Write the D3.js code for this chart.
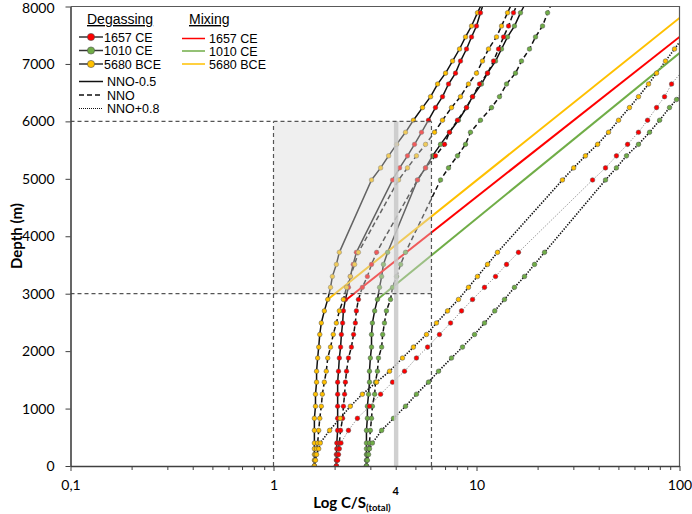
<!DOCTYPE html>
<html>
<head>
<meta charset="utf-8">
<script src="https://cdn.jsdelivr.net/npm/d3@7"></script>
<style>
  body { margin: 0; background: #fff; }
  svg { display: block; }
</style>
</head>
<body>
<div id="chart"></div>
<script>
// values: [C/S total, depth in m]
// a third entry of 0 = line only, no marker
// degassing, NNO-0.5 (solid)
const deg1657_nnoM = [[2.04,0],[2.04,100],[2.04,200],[2.05,300],[2.05,400],[2.07,620],[2.07,830],[2.07,1040],[2.07,1250],[2.07,1460],[2.09,1650],[2.11,1880],[2.14,2070],[2.16,2290],[2.19,2490],[2.21,2700],[2.26,2900],[2.34,3110],[2.39,3300],[2.47,3510],[2.56,3720],
  [3.86,4980],[4.18,5190],[4.57,5400],[4.95,5600],[5.36,5810],[5.80,6020],[6.28,6240],[6.80,6430],[7.28,6650],[7.88,6840],[8.34,7050],[8.93,7260],[9.45,7470],[10.0,7660],[10.46,7890],[10.7,8000,0]];
const deg1010_nnoM = [[2.87,0],[2.87,100],[2.87,200],[2.87,300],[2.87,400],[2.87,620],[2.90,830],[2.90,1040],[2.94,1250],[2.97,1460],[2.97,1650],[3.00,1880],[3.04,2070],[3.04,2290],[3.07,2490],[3.15,2700],[3.25,2900],[3.33,3110],[3.41,3300],[3.48,3510],[3.65,3720],
  [5.12,4980],[5.61,5190],[6.07,5400],[6.65,5600],[7.36,5810],[8.15,6020],[8.93,6240],[9.56,6430],[10.58,6650],[11.33,6840],[12.41,7050],[13.28,7260],[14.22,7470],[15.38,7660],[16.47,7890],[17.1,8000,0]];
const deg5680_nnoM = [[1.59,0],[1.59,100],[1.59,200],[1.59,300],[1.59,400],[1.59,620],[1.59,830],[1.61,1040],[1.61,1250],[1.63,1460],[1.63,1650],[1.65,1880],[1.67,2070],[1.69,2290],[1.72,2490],[1.78,2700],[1.85,2900],[1.91,3110],[1.95,3300],[2.04,3510],[2.11,3720],
  [3.04,4980],[3.37,5190],[3.69,5400],[4.04,5600],[4.47,5810],[4.89,6020],[5.42,6240],[5.94,6430],[6.43,6650],[7.04,6840],[7.62,7050],[8.25,7260],[8.83,7470],[9.45,7660],[10.11,7890],[10.46,8000,0]];
// degassing, NNO (dashed)
const deg1657_nno = [[2.04,0],[2.05,100],[2.07,200],[2.09,300],[2.11,400],[2.14,620],[2.19,830],[2.21,1040],[2.24,1250],[2.26,1460],[2.29,1650],[2.34,1880],[2.42,2070],[2.48,2290],[2.53,2490],[2.56,2700],[2.62,2900],[2.74,3110],[2.90,3300],[3.04,3510],[3.22,3720],
  [5.12,4980],[5.61,5190],[6.28,5400],[6.96,5600],[7.36,5810],[8.06,6020],[8.93,6240],[9.56,6430],[10.35,6650],[11.33,6840],[12.13,7050],[12.84,7260],[13.59,7470],[14.38,7660],[15.21,7890],[15.7,8000,0]];
const deg1010_nno = [[2.87,0],[2.88,100],[2.90,200],[2.94,300],[2.97,400],[3.00,620],[3.04,830],[3.07,1040],[3.15,1250],[3.18,1460],[3.25,1650],[3.29,1880],[3.41,2070],[3.45,2290],[3.52,2490],[3.60,2700],[3.77,2900],[3.86,3110],[4.04,3300],[4.23,3510],[4.47,3720],
  [6.65,4980],[7.28,5190],[8.06,5400],[8.83,5600],[9.34,5810],[10.46,6020],[11.86,6240],[12.98,6430],[14.06,6650],[15.56,6840],[16.66,7050],[18.24,7260],[19.53,7470],[21.15,7660],[22.39,7890],[23.1,8000,0]];
const deg5680_nno = [[1.59,0],[1.60,100],[1.61,200],[1.63,300],[1.65,400],[1.67,620],[1.69,830],[1.72,1040],[1.74,1250],[1.78,1460],[1.82,1650],[1.85,1880],[1.91,2070],[1.97,2290],[2.04,2490],[2.11,2700],[2.21,2900],[2.29,3110],[2.39,3300],[2.51,3510],[2.62,3720],
  [4.13,4980],[4.57,5190],[5.06,5400],[5.61,5600],[6.21,5810],[6.80,6020],[7.53,6240],[8.34,6430],[9.13,6650],[10.0,6840],[10.7,7050],[11.46,7260],[12.55,7470],[13.28,7660],[14.22,7890],[14.7,8000,0]];
// degassing, NNO+0.8 (dotted)
const deg1657_nnoP = [[2.04,0],[2.07,100],[2.09,200],[2.11,300],[2.15,400],[2.34,620],[2.59,830],[2.97,1040],[3.37,1250],[3.86,1460],[4.42,1650],[5.06,1880],[5.74,2070],[6.57,2290],[7.45,2490],[8.44,2700],[9.56,2900],[10.95,3110],[12.41,3300],[14.06,3510],[16.1,3720],
  [37.3,4980],[43.2,5190],[48.9,5400],[55.5,5600],[62.8,5810],[69.6,6020],[77.1,6240],[84.4,6430],[91.4,6650],[100,6820,0]];
const deg1010_nnoP = [[2.87,0],[2.90,100],[2.94,200],[2.97,300],[3.07,400],[3.41,620],[3.90,830],[4.47,1040],[5.06,1250],[5.80,1460],[6.50,1650],[7.53,1880],[8.53,2070],[9.78,2290],[10.95,2490],[12.30,2700],[13.74,2900],[15.38,3110],[17.24,3300],[19.31,3510],[21.64,3720],
  [43.2,4980],[48.9,5190],[54.8,5400],[62.8,5600],[71.2,5810],[79.8,6020],[89.3,6240],[96.7,6380],[100,6440,0]];
const deg5680_nnoP = [[1.59,0],[1.61,100],[1.63,200],[1.67,300],[1.70,400],[1.89,620],[2.13,830],[2.39,1040],[2.74,1250],[3.22,1460],[3.73,1650],[4.32,1880],[4.89,2070],[5.67,2290],[6.35,2490],[7.20,2700],[8.15,2900],[9.13,3110],[10.11,3300],[11.33,3510],[12.69,3720],
  [26.5,4980],[30.1,5190],[34.4,5400],[39.5,5600],[44.7,5810],[50.1,6020],[56.7,6240],[62.8,6430],[70.4,6650],[77.1,6840],[85.3,7050],[94.5,7260],[100,7380,0]];
// mixing lines
const mix1657 = [[2.29,2900],[100,7470]];
const mix1010 = [[3.25,2900],[100,7190]];
const mix5680 = [[1.85,2900],[100,7800]];

const boxCS = [1, 6];
const boxDepth = [3000, 6000];
const refCS = [3.92, 4.12];
const xTickValues = [0.1, 1, 10, 100];
const xTickLabels = ["0,1", "1", "10", "100"];
const yTickValues = [0, 1000, 2000, 3000, 4000, 5000, 6000, 7000, 8000];
const eruptions = ["1657 CE", "1010 CE", "5680 BCE"];
const buffers = ["NNO-0.5", "NNO", "NNO+0.8"];

const red = "#ff0000", green = "#70ad47", gold = "#ffc000";

const width = 692, height = 514;
const margin = { top: 6.5, right: 12.5, bottom: 48, left: 70.5 };

const svg = d3.select("#chart").append("svg")
    .attr("width", width)
    .attr("height", height);

const x = d3.scaleLog().domain([0.1, 100]).range([margin.left, width - margin.right]);
const y = d3.scaleLinear().domain([0, 8000]).range([height - margin.bottom, margin.top]);

svg.append("clipPath").attr("id", "plot")
  .append("rect")
    .attr("x", margin.left).attr("y", margin.top)
    .attr("width", width - margin.left - margin.right)
    .attr("height", height - margin.top - margin.bottom);

const line = d3.line().x(d => x(d[0])).y(d => y(d[1]));

const styles = {
  solid:  { stroke: "#111", width: 1.5, dash: null },
  dashed: { stroke: "#111", width: 1.5, dash: "5,3" },
  dotted: { stroke: "#111", width: 1.6, dash: "1.4,1.4" },
  dottedThin: { stroke: "#8a8a8a", width: 1, dash: "1.2,1.6" }
};

const degassing = [
  { data: deg5680_nnoM, color: gold, style: "solid" },
  { data: deg1657_nnoM, color: red, style: "solid" },
  { data: deg1010_nnoM, color: green, style: "solid" },
  { data: deg5680_nno, color: gold, style: "dashed" },
  { data: deg1657_nno, color: red, style: "dashed" },
  { data: deg1010_nno, color: green, style: "dashed" },
  { data: deg5680_nnoP, color: gold, style: "dotted" },
  { data: deg1657_nnoP, color: red, style: "dottedThin" },
  { data: deg1010_nnoP, color: green, style: "dotted" }
];

const mixing = [
  { data: mix5680, color: gold },
  { data: mix1657, color: red },
  { data: mix1010, color: green }
];

const plot = svg.append("g").attr("clip-path", "url(#plot)");

// degassing curves
plot.selectAll(".deg")
  .data(degassing)
  .enter().append("path")
    .attr("class", "deg")
    .attr("d", d => line(d.data))
    .attr("fill", "none")
    .attr("stroke", d => styles[d.style].stroke)
    .attr("stroke-width", d => styles[d.style].width)
    .attr("stroke-dasharray", d => styles[d.style].dash);

// mixing lines
plot.selectAll(".mix")
  .data(mixing)
  .enter().append("path")
    .attr("class", "mix")
    .attr("d", d => line(d.data))
    .attr("fill", "none")
    .attr("stroke", d => d.color)
    .attr("stroke-width", 2);

// markers
degassing.forEach(s => {
  plot.append("g").selectAll("circle")
    .data(s.data.filter(d => d[2] !== 0))
    .enter().append("circle")
      .attr("cx", d => x(d[0]))
      .attr("cy", d => y(d[1]))
      .attr("r", 2.3)
      .attr("fill", s.color)
      .attr("stroke", "#505050")
      .attr("stroke-width", 0.5);
});

// shaded window and C/S = 4 band (drawn over the curves, semi-transparent)
plot.append("rect")
    .attr("x", x(boxCS[0]))
    .attr("y", y(boxDepth[1]))
    .attr("width", x(boxCS[1]) - x(boxCS[0]))
    .attr("height", y(boxDepth[0]) - y(boxDepth[1]))
    .attr("fill", "#d8d8d8")
    .attr("opacity", 0.42);

plot.append("rect")
    .attr("x", x(refCS[0]))
    .attr("y", y(boxDepth[1]))
    .attr("width", x(refCS[1]) - x(refCS[0]))
    .attr("height", y(0) - y(boxDepth[1]))
    .attr("fill", "#c8c8c8")
    .attr("opacity", 0.85);

// dashed guides
const guides = [
  [[0.1, boxDepth[0]], [boxCS[1], boxDepth[0]]],
  [[0.1, boxDepth[1]], [boxCS[1], boxDepth[1]]],
  [[boxCS[0], 0], [boxCS[0], boxDepth[1]]],
  [[boxCS[1], 0], [boxCS[1], boxDepth[1]]]
];
plot.selectAll(".guide")
  .data(guides)
  .enter().append("path")
    .attr("class", "guide")
    .attr("d", line)
    .attr("fill", "none")
    .attr("stroke", "#555")
    .attr("stroke-width", 1.2)
    .attr("stroke-dasharray", "4,3");

// frame (top / right)
svg.append("path")
    .attr("d", `M${margin.left},${y(8000)}H${x(100)}V${y(0)}`)
    .attr("fill", "none")
    .attr("stroke", "#595959")
    .attr("stroke-width", 1.2);

// axes
const tickFont = "Lato, 'Liberation Sans', Arial, sans-serif";
const isMajor = d => xTickValues.some(v => Math.abs(v - d) < 1e-9);

const xAxis = svg.append("g")
    .attr("transform", `translate(0,${y(0)})`)
    .call(d3.axisBottom(x)
      .tickValues(x.ticks())
      .tickSize(4)
      .tickSizeOuter(0)
      .tickFormat(d => {
        const i = xTickValues.findIndex(v => Math.abs(v - d) < 1e-9);
        return i >= 0 ? xTickLabels[i] : "";
      }));
xAxis.select(".domain").attr("stroke", "#404040").attr("stroke-width", 1.6);
xAxis.selectAll(".tick line").attr("stroke", "#404040").attr("y2", d => isMajor(d) ? 5 : 4);
xAxis.selectAll(".tick text")
    .attr("y", 14)
    .attr("font-family", tickFont)
    .attr("font-size", "14px")
    .attr("fill", "#000");

const yAxis = svg.append("g")
    .attr("transform", `translate(${margin.left},0)`)
    .call(d3.axisLeft(y)
      .tickValues(yTickValues)
      .tickSize(5)
      .tickSizeOuter(0)
      .tickFormat(d3.format("d")));
yAxis.select(".domain").attr("stroke", "#404040").attr("stroke-width", 1.6);
yAxis.selectAll(".tick line").attr("stroke", "#404040");
yAxis.selectAll(".tick text")
    .attr("x", -16)
    .attr("dy", d => d === 8000 ? "0.45em" : "0.32em")
    .attr("font-family", tickFont)
    .attr("font-size", "14px")
    .attr("fill", "#000");

// extra "4" label
svg.append("text")
    .attr("x", x(4))
    .attr("y", 495)
    .attr("text-anchor", "middle")
    .attr("font-family", tickFont)
    .attr("font-size", "11px")
    .attr("font-weight", "bold")
    .text("4");

// axis titles
const xTitle = svg.append("text")
    .attr("x", 352)
    .attr("y", 508)
    .attr("text-anchor", "middle")
    .attr("font-family", tickFont)
    .attr("font-weight", "bold")
    .attr("font-size", "15px");
xTitle.append("tspan").text("Log C/S");
xTitle.append("tspan").attr("font-size", "9.5px").attr("dy", 3).text("(total)");

svg.append("text")
    .attr("transform", `translate(22,236) rotate(-90)`)
    .attr("text-anchor", "middle")
    .attr("font-family", tickFont)
    .attr("font-weight", "bold")
    .attr("font-size", "15px")
    .text("Depth (m)");

// legend
const legFont = "'Liberation Sans', Arial, sans-serif";
const legend = svg.append("g").attr("font-family", legFont).attr("font-size", "12.5px");

legend.append("text").attr("x", 87).attr("y", 24).attr("font-size", "14px")
    .attr("text-decoration", "underline").text("Degassing");
legend.append("text").attr("x", 189).attr("y", 24).attr("font-size", "14px")
    .attr("text-decoration", "underline").text("Mixing");

const degRows = [37, 50.5, 64];
const degColors = [red, green, gold];
degRows.forEach((ry, i) => {
  legend.append("line").attr("x1", 79).attr("x2", 103).attr("y1", ry).attr("y2", ry)
      .attr("stroke", "#333").attr("stroke-width", 1.5);
  legend.append("circle").attr("cx", 91).attr("cy", ry).attr("r", 3.6)
      .attr("fill", degColors[i]).attr("stroke", "#505050").attr("stroke-width", 0.6);
  legend.append("text").attr("x", 104).attr("y", ry + 4.5).text(eruptions[i]);
});

const bufRows = [81.5, 95, 108.5];
const bufStyles = ["solid", "dashed", "dotted"];
bufRows.forEach((ry, i) => {
  const st = styles[bufStyles[i]];
  legend.append("line").attr("x1", 79).attr("x2", 103).attr("y1", ry).attr("y2", ry)
      .attr("stroke", st.stroke)
      .attr("stroke-width", i === 2 ? 1 : st.width)
      .attr("stroke-dasharray", i === 2 ? "1,1" : st.dash);
  legend.append("text").attr("x", 107).attr("y", ry + 4.5).text(buffers[i]);
});

const mixRows = [38.5, 51, 64];
const mixColors = [red, green, gold];
mixRows.forEach((ry, i) => {
  legend.append("line").attr("x1", 182).attr("x2", 205).attr("y1", ry).attr("y2", ry)
      .attr("stroke", mixColors[i]).attr("stroke-width", 1.5);
  legend.append("text").attr("x", 209).attr("y", ry + 4.5).text(eruptions[i]);
});
</script>
</body>
</html>
